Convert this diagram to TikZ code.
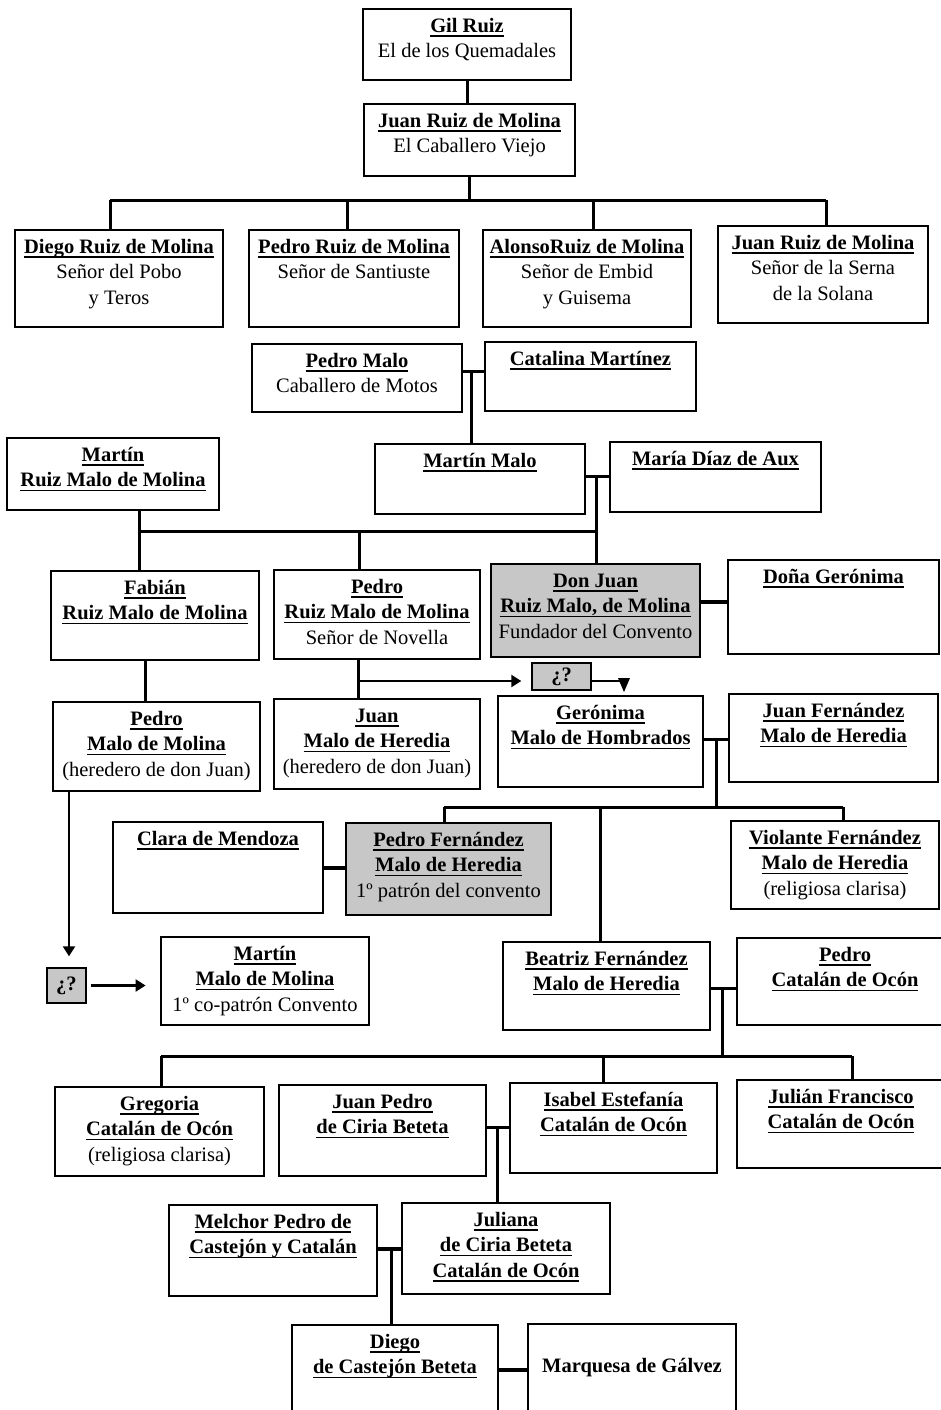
\documentclass[tikz,border=0pt]{standalone}
\usepackage{fontspec}
\setmainfont{Liberation Serif}
\usetikzlibrary{fit,calc,arrows.meta}
\newcommand\fsz{\fontsize{10.25pt}{12.75pt}\selectfont}
\newcommand\ubf[1]{\setbox0=\hbox{\textbf{#1}}\rlap{\rule[-2.4pt]{\wd0}{0.8pt}}\box0}
\newcommand\famnode[7][]{%
  \path (#3,#4) coordinate (#2-nw) (#5,#6) coordinate (#2-se);
  \node[boxst,#1,fit=(#2-nw)(#2-se)] (#2) {};
  \node[txtst] (#2-t) at ([yshift=-3.1pt]#2.north) {\strut #7};
}
\begin{document}
\begin{tikzpicture}[x=0.5pt,y=-0.5pt,
  boxst/.style={draw, line width=1.4pt, inner sep=0pt, rectangle},
  shaded/.style={fill=black!22},
  txtst/.style={anchor=north, align=center, inner sep=0pt, font=\fsz},
  conn/.style={line width=1.5pt},
  couple/.style={line width=2.4pt},
  arr/.style={line width=1.1pt, -{Triangle[width=6pt,length=5pt]}},
  qbox/.style={draw, line width=0.7pt, fill=black!22, inner sep=0pt, font=\fsz\bfseries}]
\useasboundingbox (0,0) rectangle (941,1410);
\clip (0,0) rectangle (941,1410);

% boxes
\famnode{gil}{363}{9}{571}{80}{\ubf{Gil Ruiz}\\El de los Quemadales}
\famnode{juan1}{364}{104}{575}{176}{\ubf{Juan Ruiz de Molina}\\El Caballero Viejo}
\famnode{diego}{15}{230}{223}{327}{\ubf{Diego Ruiz de Molina}\\Señor del Pobo\\y Teros}
\famnode{pedroR}{249}{230}{459}{327}{\ubf{Pedro Ruiz de Molina}\\Señor de Santiuste}
\famnode{alonso}{483}{230}{691}{327}{\ubf{AlonsoRuiz de Molina}\\Señor de Embid\\y Guisema}
\famnode{juan2}{718}{226}{928}{323}{\ubf{Juan Ruiz de Molina}\\Señor de la Serna\\de la Solana}
\famnode{pmalo}{252}{344}{462}{412}{\ubf{Pedro Malo}\\Caballero de Motos}
\famnode{catalina}{485}{342}{696}{411}{\ubf{Catalina Martínez}}
\famnode{martinR}{7}{438}{219}{510}{\ubf{Martín}\\\ubf{Ruiz Malo de Molina}}
\famnode{martinM}{375}{444}{585}{514}{\ubf{Martín Malo}}
\famnode{maria}{610}{442}{821}{512}{\ubf{María Díaz de Aux}}
\famnode{fabian}{51}{571}{259}{660}{\ubf{Fabián}\\\ubf{Ruiz Malo de Molina}}
\famnode{pedroRM}{274}{570}{480}{659}{\ubf{Pedro}\\\ubf{Ruiz Malo de Molina}\\Señor de Novella}
\famnode[shaded]{donjuan}{491}{564}{700}{657}{\ubf{Don Juan}\\\ubf{Ruiz Malo, de Molina}\\Fundador del Convento}
\famnode{dona}{728}{560}{939}{654}{\ubf{Doña Gerónima}}
\famnode{pedroMM}{53}{702}{260}{791}{\ubf{Pedro}\\\ubf{Malo de Molina}\\(heredero de don Juan)}
\famnode{juanMH}{274}{699}{480}{789}{\ubf{Juan}\\\ubf{Malo de Heredia}\\(heredero de don Juan)}
\famnode{geronima}{498}{696}{703}{787}{\ubf{Gerónima}\\\ubf{Malo de Hombrados}}
\famnode{juanF}{729}{694}{938}{782}{\ubf{Juan Fernández}\\\ubf{Malo de Heredia}}
\famnode{clara}{113}{822}{323}{913}{\ubf{Clara de Mendoza}}
\famnode[shaded]{pedroF}{346}{823}{551}{915}{\ubf{Pedro Fernández}\\\ubf{Malo de Heredia}\\1º patrón del convento}
\famnode{violante}{731}{821}{939}{909}{\ubf{Violante Fernández}\\\ubf{Malo de Heredia}\\(religiosa clarisa)}
\famnode{martinMM}{161}{937}{369}{1025}{\ubf{Martín}\\\ubf{Malo de Molina}\\1º co-patrón Convento}
\famnode{beatriz}{503}{942}{710}{1030}{\ubf{Beatriz Fernández}\\\ubf{Malo de Heredia}}
\famnode{pedroC}{737}{938}{953}{1025}{\ubf{Pedro}\\\ubf{Catalán de Ocón}}
\famnode{gregoria}{55}{1087}{264}{1176}{\ubf{Gregoria}\\\ubf{Catalán de Ocón}\\(religiosa clarisa)}
\famnode{juanP}{279}{1085}{486}{1176}{\ubf{Juan Pedro}\\\ubf{de Ciria Beteta}}
\famnode{isabel}{510}{1083}{717}{1173}{\ubf{Isabel Estefanía}\\\ubf{Catalán de Ocón}}
\famnode{julian}{737}{1080}{945}{1168}{\ubf{Julián Francisco}\\\ubf{Catalán de Ocón}}
\famnode{melchor}{169}{1205}{377}{1296}{\ubf{Melchor Pedro de}\\\ubf{Castejón y Catalán}}
\famnode{juliana}{402}{1203}{610}{1294}{\ubf{Juliana}\\\ubf{de Ciria Beteta}\\\ubf{Catalán de Ocón}}
\famnode{diegoC}{292}{1325}{498}{1440}{\ubf{Diego}\\\ubf{de Castejón Beteta}}
\famnode{marquesa}{528}{1324}{736}{1440}{\\\textbf{Marquesa de Gálvez}}

\node[qbox, minimum width=29.5pt, minimum height=13.5pt] (qm1) at (561.5,676.5) {¿?};
\node[qbox, minimum width=19.5pt, minimum height=17.5pt] (qm2) at (66.5,985.5) {¿?};

% connectors
\draw[conn] (gil.south) -- (gil.south |- juan1.north);
\coordinate (bA1) at (110,200); \coordinate (bA2) at (826,200);
\coordinate (dA1) at (347,200); \coordinate (dA2) at (593,200);
\draw[conn] (juan1.south) -- (juan1.south |- bA1);
\draw[conn] (bA1) -- (bA2);
\draw[conn] (bA1) -- (bA1 |- diego.north);
\draw[conn] (dA1) -- (dA1 |- pedroR.north);
\draw[conn] (dA2) -- (dA2 |- alonso.north);
\draw[conn] (bA2) -- (bA2 |- juan2.north);

\coordinate (c1) at (471,371);
\draw[conn] (pmalo.east |- c1) -- (catalina.west |- c1);
\draw[conn] (c1) -- (c1 |- martinM.north);

\coordinate (c2) at (596,476);
\draw[conn] (martinM.east |- c2) -- (maria.west |- c2);
\draw[conn] (c2) -- (c2 |- donjuan.north);
\coordinate (bB1) at (139,531); \coordinate (bB2) at (596,531); \coordinate (dB) at (359,531);
\draw[conn] (bB1) -- (bB2);
\draw[conn] (bB1 |- martinR.south) -- (bB1 |- fabian.north);
\draw[conn] (dB) -- (dB |- pedroRM.north);

\coordinate (c3) at (714,602);
\draw[couple] (donjuan.east |- c3) -- (dona.west |- c3);
\coordinate (v1) at (145,700);
\draw[conn] (v1 |- fabian.south) -- (v1 |- pedroMM.north);
\coordinate (v2) at (358,681);
\draw[conn] (v2 |- pedroRM.south) -- (v2 |- juanMH.north);
\draw[arr, shorten >=5pt] (v2) -- (v2 -| qm1.west);
\coordinate (tri) at (624,681);
\draw[line width=1.1pt] (qm1.east |- tri) -- (tri);
\fill ($(tri)+(-6,-3)$) -- ($(tri)+(6,-3)$) -- ($(tri)+(0,11)$) -- cycle;

\coordinate (c4) at (716,739);
\draw[conn] (geronima.east |- c4) -- (juanF.west |- c4);
\coordinate (bC1) at (444,807); \coordinate (bC2) at (843,807);
\coordinate (dC) at (600,807); \coordinate (vC) at (716,807);
\draw[conn] (c4) -- (vC);
\draw[conn] (bC1) -- (bC2);
\draw[conn] (bC1) -- (bC1 |- pedroF.north);
\draw[conn] (dC) -- (dC |- beatriz.north);
\draw[conn] (bC2) -- (bC2 |- violante.north);
\coordinate (c5) at (335,868);
\draw[couple] (clara.east |- c5) -- (pedroF.west |- c5);

\coordinate (v3) at (69,800);
\draw[arr, shorten >=5.5pt] (v3 |- pedroMM.south) -- (v3 |- qm2.north);
\draw[arr, shorten >=7pt, shorten <=2pt] (qm2.east) -- (qm2.east -| martinMM.west);

\coordinate (c6) at (722,988);
\draw[conn] (beatriz.east |- c6) -- (pedroC.west |- c6);
\coordinate (bD1) at (161,1056); \coordinate (bD2) at (852,1056);
\coordinate (dD) at (603,1056); \coordinate (vD) at (722,1056);
\draw[conn] (c6) -- (vD);
\draw[conn] (bD1) -- (bD2);
\draw[conn] (bD1) -- (bD1 |- gregoria.north);
\draw[conn] (dD) -- (dD |- isabel.north);
\draw[conn] (bD2) -- (bD2 |- julian.north);

\coordinate (c7) at (497,1127);
\draw[conn] (juanP.east |- c7) -- (isabel.west |- c7);
\draw[conn] (c7) -- (c7 |- juliana.north);
\coordinate (c8) at (391,1249);
\draw[couple] (melchor.east |- c8) -- (juliana.west |- c8);
\draw[conn] (c8) -- (c8 |- diegoC.north);
\coordinate (c9) at (513,1370);
\draw[couple] (diegoC.east |- c9) -- (marquesa.west |- c9);
\end{tikzpicture}
\end{document}
